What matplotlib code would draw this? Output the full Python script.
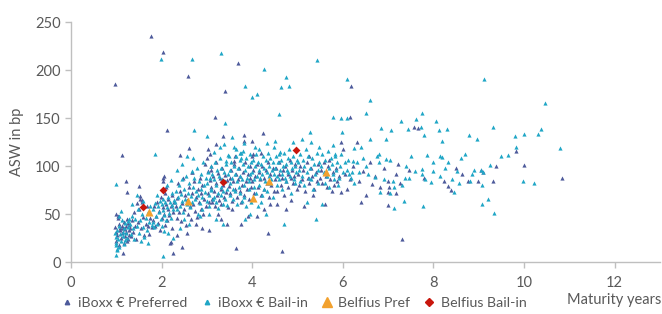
import matplotlib
matplotlib.use("Agg")
import matplotlib.pyplot as plt
from matplotlib.lines import Line2D

plt.rcParams['font.family'] = ['Lato', 'DejaVu Sans']

# ---------------- data ----------------
pref_maturity = [
    0.97,0.99,1.0,1.02,1.03,1.05,1.06,1.08,1.1,1.12,1.13,1.15,1.17,1.18,1.2,1.21,1.22,1.24,1.25,1.27,1.28,1.29,
    1.0,1.04,1.09,1.14,1.19,1.23,1.26,1.13,1.22,1.24,0.97,
    1.31,1.33,1.35,1.37,1.4,1.42,1.44,1.45,1.47,1.5,1.52,1.55,1.57,1.6,1.62,1.65,1.67,1.7,1.73,1.75,1.78,
    1.49,1.52,1.57,1.76,
    1.82,1.84,1.86,1.88,1.9,1.92,1.94,1.96,1.98,2.0,2.02,2.03,2.05,2.07,2.08,2.1,2.12,2.13,2.15,2.17,2.19,2.2,2.22,2.24,2.26,2.28,
    2.04,2.06,2.09,2.12,2.02,2.2,2.25,
    2.31,2.33,2.35,2.37,2.39,2.41,2.43,2.45,2.47,2.5,2.52,2.54,2.56,2.58,2.6,2.62,2.64,2.66,2.68,2.7,2.72,2.74,2.76,2.78,2.8,2.82,2.84,2.86,2.88,2.9,2.92,2.94,2.96,2.98,
    2.41,2.6,2.68,2.58,2.35,2.45,2.55,2.75,2.9,
    3.0,3.02,3.03,3.05,3.07,3.08,3.1,3.12,3.14,3.15,3.17,3.19,3.2,3.22,3.24,3.26,3.28,3.3,3.32,3.34,3.36,3.38,3.4,3.42,3.44,3.46,3.48,
    3.02,3.06,3.1,3.19,3.17,3.36,3.41,3.05,3.25,3.3,3.45,3.12,
    3.5,3.52,3.54,3.56,3.58,3.6,3.62,3.64,3.66,3.68,3.7,3.72,3.74,3.76,3.78,3.8,3.82,3.84,3.86,3.88,3.9,3.92,3.94,3.96,3.98,
    3.6,3.62,3.69,3.82,3.82,3.65,3.75,3.55,3.9,
    4.0,4.02,4.05,4.07,4.1,4.12,4.15,4.17,4.2,4.22,4.25,4.27,4.3,4.32,4.35,4.37,4.4,4.42,4.45,4.47,
    4.0,4.02,4.19,4.23,4.0,4.25,4.35,4.1,4.4,
    4.5,4.53,4.55,4.58,4.6,4.63,4.65,4.68,4.7,4.73,4.75,4.78,4.8,4.83,4.85,4.88,4.9,4.93,4.95,4.98,
    4.65,4.55,4.75,4.85,
    5.0,5.03,5.06,5.1,5.13,5.16,5.2,5.23,5.26,5.3,5.33,5.36,5.4,5.43,5.46,5.5,5.15,5.35,5.25,
    5.52,5.55,5.58,5.62,5.65,5.68,5.72,5.75,5.78,5.8,5.84,5.88,5.92,5.96,5.97,6.0,5.6,5.7,
    6.05,6.1,6.15,6.17,6.16,6.22,6.31,6.35,6.45,6.52,6.6,6.64,6.7,6.82,6.9,6.4,
    7.0,7.0,7.02,7.0,7.17,7.17,7.22,7.26,7.31,7.58,7.65,7.45,7.8,
    8.24,8.32,8.38,8.64,8.76,8.98,9.05,9.1,9.32,9.38,9.83,10.0,10.84,8.5,
]
pref_asw = [
    36,22,50,28,46,18,40,33,25,38,30,35,20,42,27,37,31,45,24,33,39,28,
    31,48,35,9,34,22,41,111,84,73,185,
    35,27,44,31,52,38,24,61,42,55,66,35,62,47,28,40,58,38,29,46,36,
    79,69,65,235,
    44,58,37,48,62,41,53,33,68,46,57,88,50,72,39,60,44,55,66,49,20,58,70,35,52,63,
    84,90,78,137,219,21,9,
    58,46,67,82,52,74,43,61,88,55,70,39,65,50,78,58,45,72,94,60,84,53,68,47,76,62,88,55,72,80,50,66,102,58,
    111,119,94,194,28,16,30,40,35,
    108,72,95,62,85,78,100,66,90,74,58,82,104,70,93,65,87,76,60,98,80,68,91,73,85,57,79,
    118,113,96,123,151,131,178,33,50,45,40,62,
    88,72,96,64,84,102,76,92,68,86,98,74,90,62,80,94,70,104,84,76,92,66,88,100,78,
    105,110,207,132,126,15,40,55,48,
    84,96,72,90,102,78,94,86,70,100,88,76,96,82,104,68,92,80,98,74,
    126,112,114,134,110,55,30,48,60,
    86,98,74,92,104,80,88,96,70,100,84,92,78,106,88,96,82,90,102,76,
    11,60,55,65,
    92,80,100,86,96,74,104,88,82,98,90,76,94,84,102,88,58,70,110,
    96,82,104,90,78,100,86,74,94,80,98,84,90,125,73,118,60,106,
    92,76,86,183,151,100,125,84,95,70,104,81,90,78,98,62,
    59,84,78,73,72,92,102,82,24,141,140,96,88,
    84,79,75,92,84,84,96,94,84,100,116,101,88,98,
]

bail_maturity = [
    0.98,0.99,1.0,1.01,1.02,1.03,1.05,1.06,1.08,1.1,1.12,1.14,1.16,1.18,1.2,1.22,1.24,1.26,1.28,
    0.99,1.0,1.02,1.05,1.1,1.15,1.2,1.25,0.99,
    1.3,1.32,1.35,1.37,1.4,1.42,1.45,1.47,1.5,1.52,1.55,1.57,1.6,1.62,1.65,1.67,1.7,1.72,1.75,1.78,
    1.35,1.45,1.6,1.85,1.7,
    1.8,1.82,1.84,1.86,1.88,1.9,1.92,1.94,1.96,1.98,2.0,2.01,2.02,2.04,2.06,2.08,2.1,2.12,2.14,2.16,2.18,2.2,2.22,2.24,2.26,2.28,
    1.98,2.02,2.05,2.15,2.25,2.12,1.9,2.2,
    2.3,2.32,2.34,2.36,2.38,2.4,2.42,2.44,2.46,2.48,2.5,2.52,2.54,2.56,2.58,2.6,2.62,2.64,2.66,2.68,2.7,2.72,2.74,2.76,2.78,2.8,2.82,2.84,2.86,2.88,2.9,2.92,2.94,2.96,2.98,
    2.35,2.45,2.5,2.6,2.66,2.72,2.8,2.9,3.0,2.4,2.55,2.7,2.85,
    3.0,3.02,3.04,3.06,3.08,3.1,3.12,3.14,3.16,3.18,3.2,3.22,3.24,3.26,3.28,3.3,3.32,3.34,3.36,3.38,3.4,3.42,3.44,3.46,3.48,
    3.01,3.05,3.1,3.15,3.2,3.25,3.3,3.35,3.4,3.45,
    3.28,3.31,3.38,3.41,3.46,3.05,3.2,3.35,3.15,3.42,
    3.5,3.52,3.54,3.56,3.58,3.6,3.62,3.64,3.66,3.68,3.7,3.72,3.74,3.76,3.78,3.8,3.82,3.84,3.86,3.88,3.9,3.92,3.94,3.96,3.98,
    3.52,3.57,3.62,3.67,3.72,3.77,3.82,3.87,3.92,3.97,
    3.73,3.79,3.75,3.83,3.82,3.6,3.85,3.95,3.55,3.65,
    4.0,4.02,4.04,4.06,4.08,4.1,4.12,4.14,4.16,4.18,4.2,4.22,4.24,4.26,4.28,4.3,4.32,4.34,4.36,4.38,4.4,4.42,4.44,4.46,4.48,
    4.03,4.09,4.15,4.21,4.27,4.33,4.39,4.45,
    4.0,4.11,4.07,4.33,4.47,4.25,4.12,4.3,4.2,
    4.5,4.52,4.54,4.56,4.58,4.6,4.62,4.64,4.66,4.68,4.7,4.72,4.74,4.76,4.78,4.8,4.82,4.84,4.86,4.88,4.9,4.92,4.94,4.96,4.98,
    4.55,4.65,4.75,4.85,4.95,
    4.6,4.63,4.75,4.81,4.61,4.5,4.7,4.9,
    5.0,5.03,5.06,5.09,5.12,5.15,5.18,5.21,5.24,5.27,5.3,5.33,5.36,5.39,5.42,5.45,5.48,
    5.05,5.15,5.25,5.35,5.45,
    5.42,5.1,5.3,5.2,5.4,5.28,5.48,
    5.52,5.55,5.58,5.61,5.64,5.67,5.7,5.73,5.76,5.79,5.82,5.85,5.88,5.91,5.94,5.97,6.0,
    5.6,5.7,5.8,5.9,
    5.78,5.97,6.1,5.98,5.79,5.83,5.55,
    6.05,6.09,6.12,6.14,6.19,6.22,6.25,6.31,6.36,6.39,6.45,6.52,6.56,6.61,6.61,6.7,6.75,6.79,6.81,6.85,6.95,6.95,
    6.09,6.25,6.5,6.8,6.2,6.9,
    7.04,7.07,7.1,7.14,7.28,7.3,7.34,7.37,7.43,7.46,7.5,7.62,7.72,7.74,7.75,7.75,7.77,7.79,7.81,7.86,7.95,
    7.12,7.05,7.4,7.6,
    8.0,8.06,8.13,8.15,8.18,8.19,8.29,8.32,8.46,8.51,8.57,8.79,8.84,8.96,8.0,8.15,8.25,8.4,8.7,8.9,8.81,8.6,
    9.07,9.08,9.1,9.11,9.2,9.25,9.31,9.33,9.48,9.79,9.83,9.97,9.99,10.23,10.31,10.37,10.47,10.8,9.05,9.65,
]
bail_asw = [
    30,20,26,14,33,24,38,16,29,22,44,27,35,19,41,30,25,36,45,
    81,7,12,48,53,31,23,43,18,
    40,29,48,35,24,45,38,55,30,44,22,50,36,26,46,33,52,42,58,39,
    60,70,64,113,20,
    42,55,36,61,48,40,58,52,64,45,60,38,54,66,49,62,44,57,68,51,63,46,59,72,55,65,
    211,6,32,30,25,80,70,85,
    62,74,55,68,80,58,71,64,86,52,76,66,90,60,72,82,57,69,95,63,78,88,66,74,98,70,84,61,92,76,68,104,80,73,88,
    96,102,45,40,211,138,50,55,131,35,110,108,48,
    82,94,70,88,100,76,92,66,86,104,80,96,72,90,108,78,98,86,74,94,84,102,76,92,110,
    64,58,75,68,62,56,70,60,66,59,
    120,218,123,145,111,50,45,40,115,105,
    96,82,104,88,76,100,92,110,84,98,78,106,90,114,86,102,80,96,108,88,100,84,112,92,104,
    70,66,74,60,72,64,68,58,76,62,
    114,116,108,183,124,120,45,50,130,118,
    94,106,86,100,112,90,104,96,118,88,102,92,110,98,84,106,94,114,90,100,108,86,96,104,92,
    78,72,80,70,76,74,82,68,
    172,175,120,124,120,201,58,50,62,
    98,110,90,104,86,112,96,106,92,100,114,88,102,96,108,94,118,90,104,98,110,86,100,94,106,
    80,76,84,72,82,
    154,182,193,183,115,126,40,125,
    104,96,112,90,106,100,118,94,110,98,86,108,102,92,114,96,104,
    84,80,88,76,82,
    210,128,125,62,45,135,120,
    100,112,94,106,90,116,98,108,102,92,110,96,104,88,100,112,94,
    82,78,86,80,
    151,150,150,135,122,112,60,
    104,191,106,92,87,105,119,104,94,120,108,155,92,128,169,89,110,104,73,140,128,107,
    96,82,100,112,94,86,
    72,138,84,78,147,80,64,87,139,87,110,149,141,155,97,92,58,132,86,111,83,
    56,106,100,95,
    104,147,137,90,126,109,139,104,73,95,82,132,92,128,95,110,98,86,112,96,84,108,
    80,60,94,191,66,101,141,51,110,131,120,84,133,82,133,139,166,119,96,111,
]

belfius_pref_maturity = [1.72, 2.58, 4.02, 4.38, 5.62]
belfius_pref_asw = [52, 64, 67, 84, 94]
belfius_bail_maturity = [1.60, 2.04, 3.36, 4.97]
belfius_bail_asw = [57, 75, 83, 117]

x_ticks = [0, 2, 4, 6, 8, 10, 12]
y_ticks = [0, 50, 100, 150, 200, 250]

# ---------------- style ----------------
c_pref = '#4D5A9B'
c_bail = '#1FA6C6'
c_bpref = '#F2A12E'
c_bbail = '#C8160C'
c_text = '#595959'
c_axis = '#BFBFBF'

fig = plt.figure(figsize=(6.62, 3.14), dpi=100)
ax = fig.add_axes([71/662, 1-262/314, (660-71)/662, (262-22)/314])

ax.scatter(pref_maturity, pref_asw, marker='^', s=9, color=c_pref, linewidths=0, zorder=2)
ax.scatter(bail_maturity, bail_asw, marker='^', s=9, color=c_bail, linewidths=0, zorder=2)
ax.scatter(belfius_pref_maturity, belfius_pref_asw, marker='^', s=34, color=c_bpref, linewidths=0, zorder=3)
ax.scatter(belfius_bail_maturity, belfius_bail_asw, marker='D', s=16, color=c_bbail, linewidths=0, zorder=4)

ax.set_xlim(0, 13)
ax.set_ylim(0, 250)
ax.set_xticks(x_ticks)
ax.set_yticks(y_ticks)
ax.tick_params(axis='both', colors=c_axis, labelcolor=c_text, labelsize=10.5, length=4, width=1)
ax.tick_params(axis='x', pad=6)
for side in ('top', 'right'):
    ax.spines[side].set_visible(False)
for side in ('left', 'bottom'):
    ax.spines[side].set_color(c_axis)
    ax.spines[side].set_linewidth(1)

ax.set_ylabel('ASW in bp', color=c_text, fontsize=10.5, labelpad=8)
fig.text(0.999, 0.045, 'Maturity years', ha='right', va='center', color=c_text, fontsize=10.5)

handles = [
    Line2D([], [], linestyle='none', marker='^', markersize=3.2, color=c_pref),
    Line2D([], [], linestyle='none', marker='^', markersize=3.2, color=c_bail),
    Line2D([], [], linestyle='none', marker='^', markersize=6.5, color=c_bpref),
    Line2D([], [], linestyle='none', marker='D', markersize=4.5, color=c_bbail),
]
labels = ['iBoxx € Preferred', 'iBoxx € Bail-in', 'Belfius Pref', 'Belfius Bail-in']
leg = fig.legend(handles, labels, loc='center left', bbox_to_anchor=(0.085, 0.035), ncol=4,
                 frameon=False, fontsize=10.2, handlelength=0.7, handletextpad=0.45,
                 columnspacing=1.0, borderaxespad=0)
for t in leg.get_texts():
    t.set_color(c_text)

fig.savefig('out.png', dpi=100)
